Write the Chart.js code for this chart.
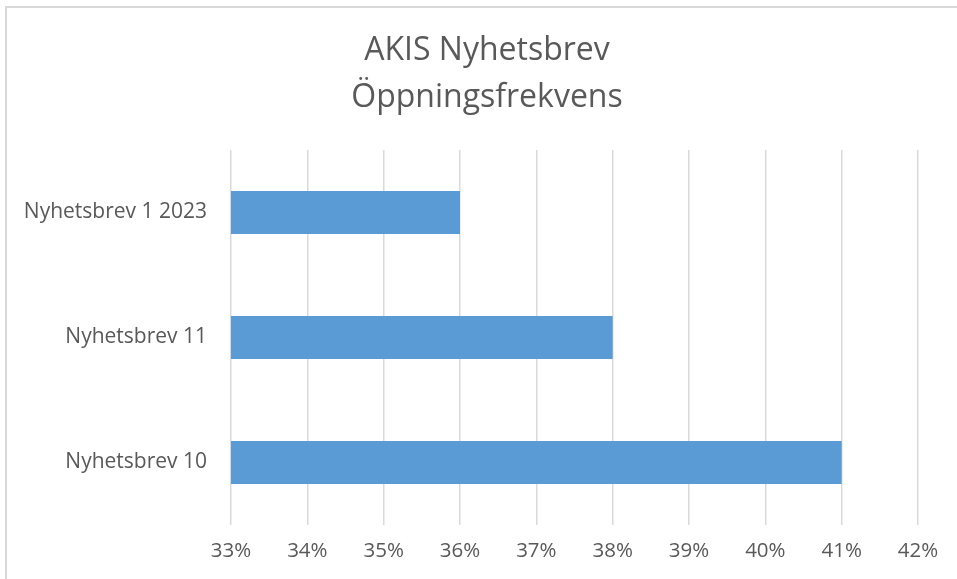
<!DOCTYPE html>
<html>
<head>
<meta charset="utf-8">
<script src="https://cdn.jsdelivr.net/npm/chart.js@4.4.1/dist/chart.umd.min.js"></script>
<style>
    html, body { margin: 0; padding: 0; background: #ffffff; }
    #wrap { position: relative; width: 957px; height: 579px; overflow: hidden; }
    #frame { position: absolute; left: 5px; top: 6px; width: 1000px; height: 1000px;
             border-top: 2px solid #d9d9d9; border-left: 2px solid #d9d9d9; }
    canvas { position: absolute; left: 0; top: 0; }
</style>
</head>
<body>
<div id="wrap">
    <div id="frame"></div>
    <canvas id="chart" width="957" height="579"></canvas>
</div>
<script>
// Datos del gráfico
const titleLines = ['AKIS Nyhetsbrev', 'Öppningsfrekvens'];
const categories = ['Nyhetsbrev 1 2023', 'Nyhetsbrev 11', 'Nyhetsbrev 10'];
const openRates = [36, 38, 41];
const axisMin = 33;
const axisMax = 42;

const textColor = '#595959';
const gridColor = '#d9d9d9';
const fontFamily = "'Open Sans', 'Noto Sans', sans-serif";

// Título centrado sobre todo el gráfico (no solo sobre el área de datos)
const centeredTitle = {
    id: 'centeredTitle',
    afterDraw: function (chart) {
        const c = chart.ctx;
        c.save();
        c.fillStyle = textColor;
        c.font = '32px ' + fontFamily;
        c.textAlign = 'center';
        c.textBaseline = 'middle';
        const cx = 487;
        titleLines.forEach(function (line, i) {
            c.fillText(line, cx, 51 + i * 47);
        });
        c.restore();
    }
};

const ctx = document.getElementById('chart').getContext('2d');

new Chart(ctx, {
    type: 'bar',
    data: {
        labels: categories,
        datasets: [
            {
                label: 'Öppningsfrekvens',
                data: openRates,
                backgroundColor: '#5b9bd5',
                borderWidth: 0,
                categoryPercentage: 1,
                barPercentage: 0.344
            }
        ]
    },
    options: {
        indexAxis: 'y',
        responsive: false,
        animation: false,
        layout: {
            padding: { top: 150, right: 39, bottom: 0, left: 0 }
        },
        plugins: {
            legend: { display: false },
            tooltip: { enabled: false },
            title: { display: false }
        },
        scales: {
            x: {
                min: axisMin,
                max: axisMax,
                border: { display: false },
                grid: { color: gridColor, lineWidth: 1.5, drawTicks: false },
                ticks: {
                    stepSize: 1,
                    padding: 14,
                    color: textColor,
                    font: { family: fontFamily, size: 20.5 },
                    callback: function (value) {
                        return value + '%';
                    }
                },
                afterFit: function (scale) {
                    scale.height = 54;
                }
            },
            y: {
                border: { display: false },
                grid: { display: false, drawTicks: false },
                ticks: {
                    padding: 24,
                    color: textColor,
                    font: { family: fontFamily, size: 21 }
                },
                afterFit: function (scale) {
                    scale.width = 231;
                }
            }
        }
    },
    plugins: [centeredTitle]
});
</script>
</body>
</html>
